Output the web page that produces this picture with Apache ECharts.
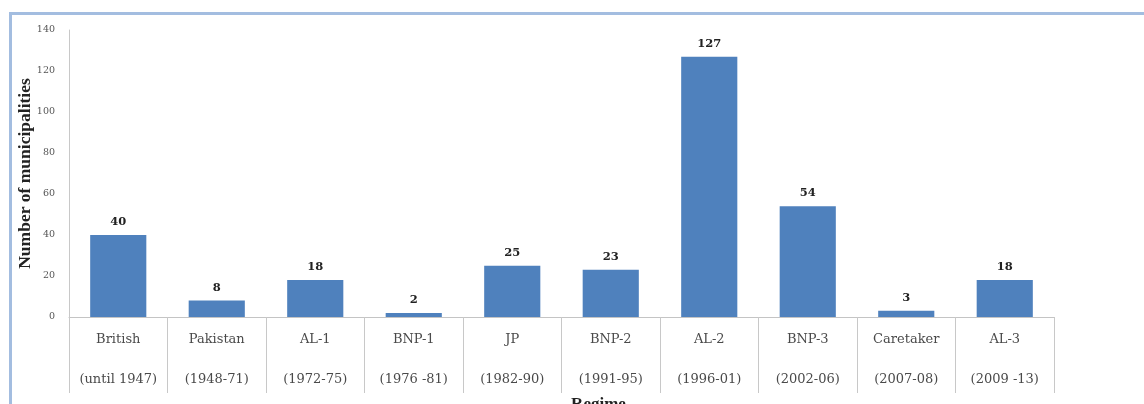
<!DOCTYPE html>
<html>
<head>
<meta charset="utf-8">
<script src="https://cdn.jsdelivr.net/npm/echarts@6/dist/echarts.min.js"></script>
<style>
  html, body { margin: 0; padding: 0; background: #fff; }
  #frame {
    position: absolute; left: 9px; top: 12px; width: 1135px; height: 392px;
    border-top: 3px solid #a3bde0; border-left: 3px solid #a3bde0; box-sizing: border-box;
  }
  #chart { position: absolute; left: 0; top: 0; width: 1144px; height: 404px; }
</style>
</head>
<body>
<div id="frame"></div>
<div id="chart"></div>
<script>
const regimes = ["British", "Pakistan", "AL-1", "BNP-1", "JP", "BNP-2", "AL-2", "BNP-3", "Caretaker", "AL-3"];
const periods = ["(until 1947)", "(1948-71)", "(1972-75)", "(1976 -81)", "(1982-90)", "(1991-95)", "(1996-01)", "(2002-06)", "(2007-08)", "(2009 -13)"];
const municipalities = [40, 8, 18, 2, 25, 23, 127, 54, 3, 18];
const yTicks = [0, 140, 20]; // min, max, interval

const chart = echarts.init(document.getElementById("chart"));
chart.setOption({
  animation: false,
  grid: { left: 69, right: 90, top: 30, bottom: 87, outerBoundsMode: "none", containLabel: false },
  xAxis: {
    type: "category",
    data: regimes.map((r, i) => r + "\n" + periods[i]),
    name: "Regime",
    nameLocation: "middle",
    nameGap: 79,
    nameMoveOverlap: false,
    nameTextStyle: {
      fontFamily: "Liberation Serif", fontWeight: "bold", fontSize: 17,
      color: "#222", padding: [0, 0, 0, 74],
    },
    axisLine: { lineStyle: { color: "#c4c4c4" } },
    axisTick: { show: true, interval: 0, length: 76, lineStyle: { color: "#c8c8c8" } },
    axisLabel: {
      interval: 0, hideOverlap: false, align: "center",
      margin: 3, lineHeight: 40, fontFamily: "DejaVu Serif", fontSize: 13, color: "#4a4a4a",
    },
  },
  yAxis: {
    type: "value",
    min: yTicks[0],
    max: yTicks[1],
    interval: yTicks[2],
    name: "Number of municipalities",
    nameLocation: "middle",
    nameGap: 35,
    nameMoveOverlap: false,
    nameTextStyle: { fontFamily: "Liberation Serif", fontWeight: "bold", fontSize: 17.5, color: "#222" },
    axisLine: { show: true, lineStyle: { color: "#c8c8c8" } },
    axisTick: { show: false },
    splitLine: { show: false },
    axisLabel: { margin: 14, fontFamily: "DejaVu Serif", fontSize: 9.5, color: "#555" },
  },
  series: [{
    type: "bar",
    data: municipalities,
    barWidth: "57%",
    itemStyle: { color: "#4f81bd" },
    label: {
      show: true, position: "top", distance: 7,
      fontFamily: "DejaVu Serif", fontWeight: "bold", fontSize: 11.5, color: "#222",
    },
  }],
});
</script>
</body>
</html>
